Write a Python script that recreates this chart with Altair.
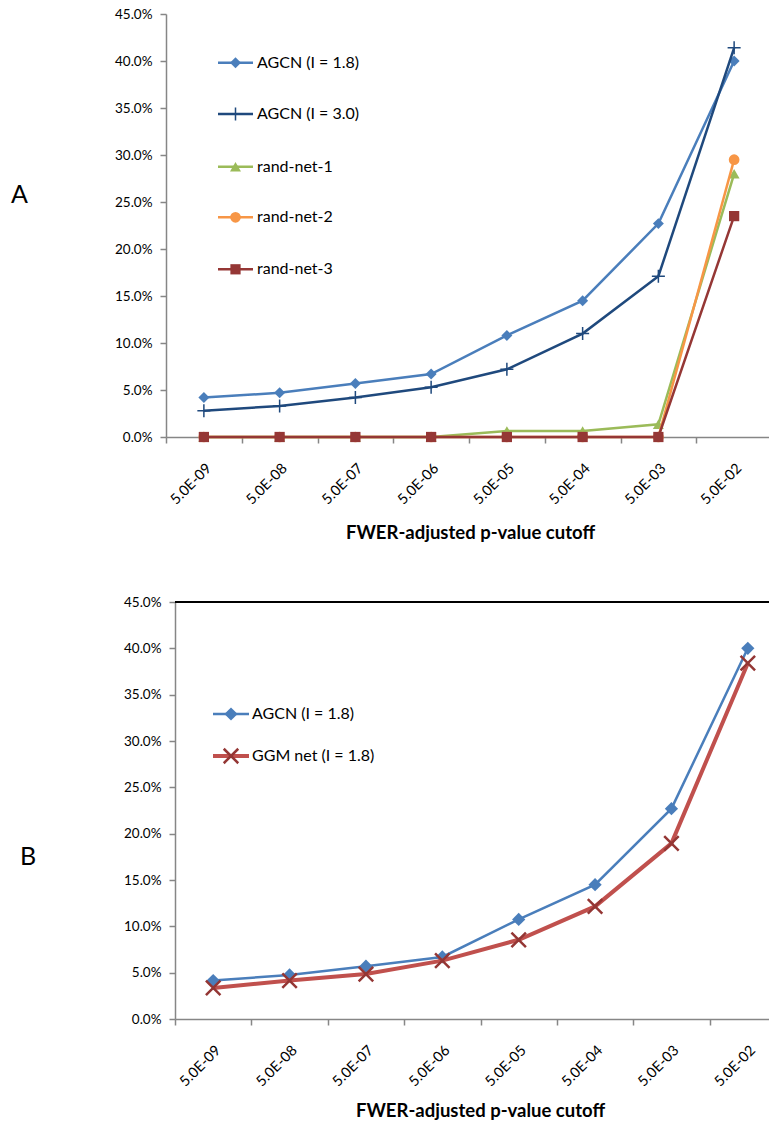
import altair as alt
import pandas as pd

# ---------------- data ----------------
cutoffs = ["5.0E-09", "5.0E-08", "5.0E-07", "5.0E-06",
           "5.0E-05", "5.0E-04", "5.0E-03", "5.0E-02"]
y_ticks = [0.0, 0.05, 0.10, 0.15, 0.20, 0.25, 0.30, 0.35, 0.40, 0.45]

# panel A (percent)
agcn_18 = [4.2, 4.7, 5.7, 6.7, 10.8, 14.5, 22.7, 40.0]
agcn_30 = [2.8, 3.3, 4.2, 5.3, 7.2, 11.0, 17.1, 41.4]
rand_net_1 = [0.0, 0.0, 0.0, 0.0, 0.65, 0.65, 1.35, 28.0]
rand_net_2 = [0.0, 0.0, 0.0, 0.0, 0.0, 0.0, 0.0, 29.5]
rand_net_3 = [0.0, 0.0, 0.0, 0.0, 0.0, 0.0, 0.0, 23.5]

# panel B (percent)
agcn_18_b = [4.15, 4.75, 5.7, 6.7, 10.75, 14.5, 22.7, 40.0]
ggm_18 = [3.35, 4.15, 4.85, 6.3, 8.55, 12.15, 18.95, 38.4]

FONT = "Lato"
CROSS = "M-1,0L1,0M0,-1L0,1"
XMARK = "M-1,-1L1,1M-1,1L1,-1"

series_a = [
    dict(name="AGCN (I = 1.8)", values=agcn_18, color="#4A7EBB", lw=2.5,
         shape="diamond", size=120, filled=True, mcolor="#4A7EBB", msw=1),
    dict(name="AGCN (I = 3.0)", values=agcn_30, color="#1F497D", lw=2.5,
         shape=CROSS, size=170, filled=False, mcolor="#1F497D", msw=1.5),
    dict(name="rand-net-1", values=rand_net_1, color="#9BBB59", lw=2.5,
         shape="triangle-up", size=120, filled=True, mcolor="#9BBB59", msw=1),
    dict(name="rand-net-2", values=rand_net_2, color="#F79646", lw=2.5,
         shape="circle", size=115, filled=True, mcolor="#F79646", msw=1),
    dict(name="rand-net-3", values=rand_net_3, color="#953735", lw=2.5,
         shape="square", size=105, filled=True, mcolor="#953735", msw=1),
]
series_b = [
    dict(name="AGCN (I = 1.8)", values=agcn_18_b, color="#4A7EBB", lw=2.5,
         shape="diamond", size=175, filled=True, mcolor="#4A7EBB", msw=1),
    dict(name="GGM net (I = 1.8)", values=ggm_18, color="#C0504D", lw=4,
         shape=XMARK, size=210, filled=False, mcolor="#943634", msw=2.5),
]

# page geometry (pixels)
PAGE_W, PAGE_H = 769, 1128
LEFT, TOP = 166, 14


def x_enc(title_pad, x0, x1, title_x):
    return alt.X(
        "cutoff:O", sort=cutoffs, bandPosition=0.5,
        scale=alt.Scale(type="band", paddingInner=0, paddingOuter=0, range=[x0, x1]),
        axis=alt.Axis(
            title="FWER-adjusted p-value cutoff", titleFont=FONT, titleFontSize=18.5,
            titleFontWeight="bold", titleColor="#000000", titlePadding=title_pad,
            titleX=title_x,
            labelAngle=-45, labelAlign="right", labelBaseline="middle",
            labelFont=FONT, labelFontSize=14.5, labelColor="#000000",
            labelPadding=23, labelOffset=5,
            tickBand="extent", ticks=True, tickSize=6, tickColor="#868686",
            tickWidth=1.5, domainColor="#868686", domainWidth=1.5, grid=False,
        ),
    )


def y_enc(offset):
    return alt.Y(
        "value:Q", scale=alt.Scale(domain=[0, 0.45], nice=False, zero=True),
        axis=alt.Axis(
            title=None, values=y_ticks, format=".1%", labelFont=FONT,
            labelFontSize=13.5, labelColor="#000000", labelPadding=8,
            tickSize=6, tickColor="#868686", tickWidth=1.5, offset=offset,
            domainColor="#868686", domainWidth=1.5, grid=False,
        ),
    )


def make_panel(series, x0, x1, height, letter, letter_x, letter_y,
               leg_x0, leg_x1, leg_text_x, leg_ys, title_pad, title_x,
               top_border=False):
    dummy = pd.DataFrame({"k": [0]})
    layers = []
    xe = x_enc(title_pad, x0, x1, title_x)
    ye = y_enc(-x0)
    for s in series:
        df = pd.DataFrame({"cutoff": cutoffs, "value": [v / 100 for v in s["values"]]})
        base = alt.Chart(df)
        layers.append(base.mark_line(color=s["color"], strokeWidth=s["lw"])
                      .encode(x=xe, y=ye))
        layers.append(base.mark_point(shape=s["shape"], size=s["size"],
                                      filled=s["filled"], color=s["mcolor"],
                                      strokeWidth=s["msw"], opacity=1)
                      .encode(x=xe, y=ye))
    # manual legend
    for s, ly in zip(series, leg_ys):
        c = alt.Chart(dummy)
        layers.append(c.mark_rule(color=s["color"], strokeWidth=s["lw"])
                      .encode(x=alt.value(leg_x0), x2=alt.value(leg_x1), y=alt.value(ly)))
        layers.append(c.mark_point(shape=s["shape"], size=s["size"], filled=s["filled"],
                                   color=s["mcolor"], strokeWidth=s["msw"], opacity=1)
                      .encode(x=alt.value((leg_x0 + leg_x1) / 2), y=alt.value(ly)))
        layers.append(c.mark_text(align="left", baseline="middle", font=FONT,
                                  fontSize=16, color="#000000")
                      .encode(x=alt.value(leg_text_x), y=alt.value(ly),
                              text=alt.value(s["name"])))
    # panel letter
    layers.append(alt.Chart(dummy).mark_text(align="left", baseline="middle", font=FONT,
                                             fontSize=25, color="#000000")
                  .encode(x=alt.value(letter_x), y=alt.value(letter_y),
                          text=alt.value(letter)))
    if top_border:
        layers.append(alt.Chart(dummy).mark_rule(color="#000000", strokeWidth=2)
                      .encode(x=alt.value(x0), x2=alt.value(x1), y=alt.value(0)))
    return alt.layer(*layers).properties(width=x1, height=height)


panel_a = make_panel(series_a, 0, 606, 423, "A", -155, 181,
                     52, 87, 91, [48.7, 100, 152.7, 203.3, 255.3],
                     title_pad=17, title_x=304)
panel_b = make_panel(series_b, 9, 620, 417, "B", -146, 255,
                     47, 83, 86, [112, 154],
                     title_pad=13, title_x=314, top_border=True)

chart = (
    alt.vconcat(panel_a, panel_b, spacing=52)
    .properties(autosize=alt.AutoSizeParams(type="none"),
                padding={"left": LEFT, "top": TOP,
                         "right": PAGE_W - LEFT, "bottom": PAGE_H - TOP},
                background="#ffffff")
    .configure_view(stroke=None)
)

chart.save("out.html", embed_options={"renderer": "svg", "actions": False})
